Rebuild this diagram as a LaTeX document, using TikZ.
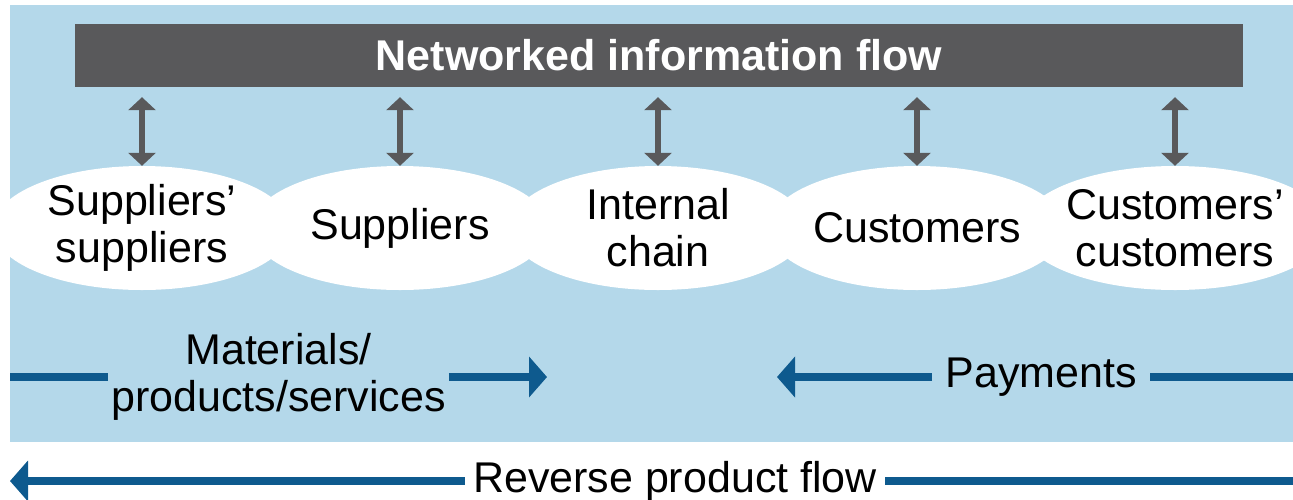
\documentclass[tikz,border=0pt]{standalone}
\usepackage{fontspec}
\setmainfont{Liberation Sans}
\usetikzlibrary{arrows.meta,shapes.geometric}
\definecolor{bgblue}{HTML}{B4D8EA}
\definecolor{bargray}{HTML}{59595B}
\definecolor{flowblue}{HTML}{0E5A8E}
\begin{document}
\begin{tikzpicture}[x=1pt,y=-1pt,
  every node/.style={font=\fontsize{43}{47}\selectfont},
  bar/.style={fill=bargray,text=white,minimum width=1168pt,minimum height=63pt,inner sep=0pt,font=\fontsize{43}{47}\selectfont\bfseries},
  org/.style={ellipse,fill=white,minimum width=298pt,minimum height=124pt,inner sep=0pt,align=center},
  infoarrow/.style={bargray,line width=5.5pt,{Triangle[width=27pt,length=13pt]}-{Triangle[width=27pt,length=13pt]},shorten <=10pt},
  flowtext/.style={align=center,inner ysep=0pt},
  flowline/.style={flowblue,line width=8pt},
  flowarrow/.style={flowline,-{Triangle[width=40pt,length=18pt]}}
]
\useasboundingbox (0,0) rectangle (1293,499);
\clip (0,0) rectangle (1293,499);
\fill[bgblue] (10,5) rectangle (1293,442);
\node[bar] (bar) at (659,55.5) {Networked information flow};
\node[org] (e1) at (142,228) {Suppliers’\\suppliers};
\node[org] (e2) at (400,228) {Suppliers};
\node[org] (e3) at (658,228) {Internal\\chain};
\node[org] (e4) at (917,228) {Customers};
\node[org] (e5) at (1175,228) {Customers’\\customers};
\foreach \n in {e1,e2,e3,e4,e5}
  \draw[infoarrow] (bar.south -| \n.north) -- (\n.north);
% materials
\node[flowtext,inner xsep=3pt] (mat) at (278.5,377) {Materials/\\products/services};
\coordinate (matL) at (10,377);
\coordinate (matR) at (547,377);
\draw[flowline] (matL) -- (mat.west);
\draw[flowarrow] (mat.east) -- (matR);
% payments
\node[flowtext,inner xsep=13pt] (pay) at (1041,377) {Payments};
\coordinate (payL) at (777,377);
\coordinate (payR) at (1293,377);
\draw[flowarrow] (pay.west) -- (payL);
\draw[flowline] (payR) -- (pay.east);
% reverse
\node[flowtext,inner xsep=8pt] (rev) at (675,481) {Reverse product flow};
\coordinate (revL) at (10,481);
\coordinate (revR) at (1293,481);
\draw[flowarrow] (rev.west) -- (revL);
\draw[flowline] (revR) -- (rev.east);
\end{tikzpicture}
\end{document}
